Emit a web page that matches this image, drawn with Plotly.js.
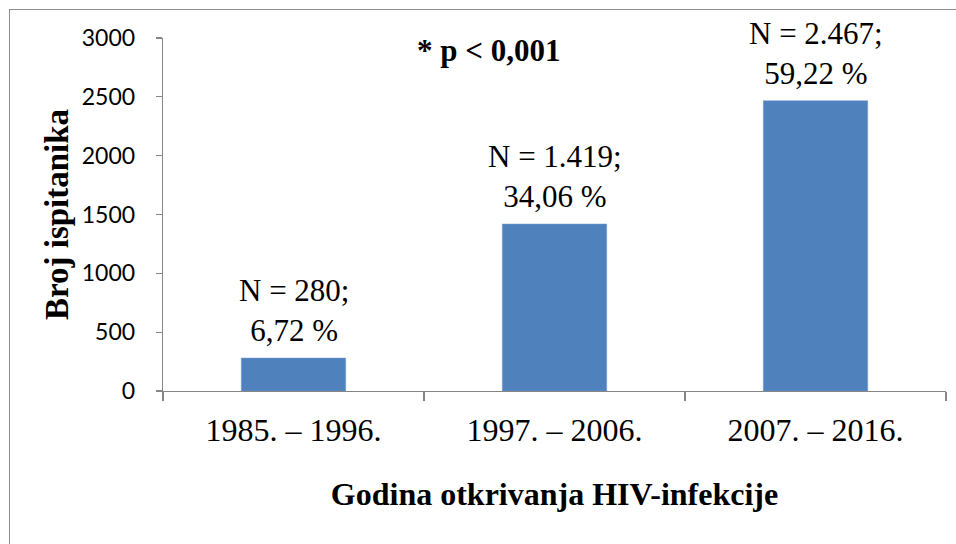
<!DOCTYPE html>
<html>
<head>
<meta charset="utf-8">
<script src="https://cdn.plot.ly/plotly-3.0.1.min.js"></script>
<style>
  html, body { margin: 0; padding: 0; background: #ffffff; }
  #wrap { position: relative; width: 956px; height: 544px; overflow: hidden; }
  #chart { position: absolute; left: 0; top: 0; width: 956px; height: 544px; }
  #frame { position: absolute; left: 9px; top: 9px; width: 960px; height: 560px;
           border: 1.5px solid #8c8c8c; box-sizing: border-box; pointer-events: none; }
</style>
</head>
<body>
<div id="wrap">
  <div id="chart"></div>
  <div id="frame"></div>
</div>
<script>
// ---- data ----
const categories = ["1985. \u2013 1996.", "1997. \u2013 2006.", "2007. \u2013 2016."];
const counts = [280, 1419, 2467];
const countLabels = ["280", "1.419", "2.467"];
const percentLabels = ["6,72", "34,06", "59,22"];
const yTickValues = [0, 500, 1000, 1500, 2000, 2500, 3000];
const yTickText = ["0", "500", "1000", "1500", "2000", "2500", "3000"];
const significanceText = "* p < 0,001";
const xTitle = "Godina otkrivanja HIV-infekcije";
const yTitle = "Broj ispitanika";

const serif = "Liberation Serif, Times New Roman, serif";
const sans = "Lato, Carlito, Calibri, sans-serif";

const trace = {
  type: "bar",
  x: categories,
  y: counts,
  marker: { color: "#4F81BD", line: { color: "#6f9ad0", width: 0.5 } },
  hoverinfo: "skip"
};

const annotations = categories.map((c, i) => ({
  x: c, y: counts[i], xref: "x", yref: "y",
  text: "N = " + countLabels[i] + ";<br>" + percentLabels[i] + " %",
  showarrow: false, xanchor: "center", yanchor: "bottom", yshift: 8,
  font: { family: serif, size: 31, color: "#000" }
}));
annotations.push({
  x: 0.416, y: 0.966, xref: "paper", yref: "paper",
  text: "<b>" + significanceText + "</b>",
  showarrow: false, xanchor: "center", yanchor: "middle",
  font: { family: serif, size: 31, color: "#000" }
});

const layout = {
  width: 956, height: 544,
  margin: { l: 163, r: 10, t: 38, b: 153, pad: 0 },
  paper_bgcolor: "#ffffff", plot_bgcolor: "#ffffff",
  showlegend: false,
  bargap: 0.6,
  xaxis: {
    type: "category",
    tickson: "boundaries",
    ticks: "outside", ticklen: 9, tickcolor: "#868686", tickwidth: 1.3,
    showline: true, linecolor: "#868686", linewidth: 1.3,
    showgrid: false, zeroline: false,
    ticklabelstandoff: 10,
    tickfont: { family: serif, size: 32, color: "#000" },
    title: { text: "<b>" + xTitle + "</b>", standoff: 36,
             font: { family: serif, size: 32, color: "#000" } },
    fixedrange: true
  },
  yaxis: {
    range: [0, 3000],
    tickvals: yTickValues, ticktext: yTickText,
    ticks: "outside", ticklen: 6, tickcolor: "#868686", tickwidth: 1.3,
    showline: true, linecolor: "#868686", linewidth: 1.3,
    showgrid: false, zeroline: false,
    ticklabelstandoff: 16,
    tickfont: { family: sans, size: 23, color: "#000" },
    title: { text: "<b>" + yTitle + "</b>", standoff: 3,
             font: { family: serif, size: 33, color: "#000" } },
    fixedrange: true
  },
  annotations: annotations
};

Plotly.newPlot("chart", [trace], layout, { displayModeBar: false, staticPlot: true });
</script>
</body>
</html>
